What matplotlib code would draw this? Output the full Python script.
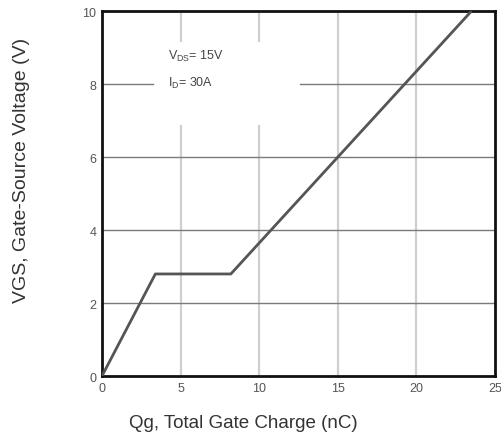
import numpy as np
import matplotlib
matplotlib.use('Agg')
import matplotlib.pyplot as plt

plt.rcParams['font.family'] = ['Liberation Sans', 'DejaVu Sans']

# gate charge curve (nC, V)
qg = [0.0, 3.4, 8.2, 23.5]
vgs = [0.0, 2.8, 2.8, 10.0]

x_ticks = [0, 5, 10, 15, 20, 25]
y_ticks = [0, 2, 4, 6, 8, 10]

fig = plt.figure(figsize=(5.02, 4.35), dpi=100)
ax = fig.add_axes([0.203, 0.133, 0.783, 0.839])
ax.set_xlim(0, 25)
ax.set_ylim(0, 10)

# vertical grid, light, with gaps at 5 and 10 for the annotation
for xv in [5, 10, 15, 20]:
    if xv in (5, 10):
        ax.plot([xv, xv], [0, 6.85], color='#cfcfcf', lw=1.6, zorder=1)
        ax.plot([xv, xv], [9.18, 10], color='#cfcfcf', lw=1.6, zorder=1)
    else:
        ax.plot([xv, xv], [0, 10], color='#cfcfcf', lw=1.6, zorder=1)
# horizontal grid, darker thin
for yv in [2, 4, 6, 8]:
    if yv == 8:
        ax.plot([0, 3.25], [yv, yv], color='#7a7a7a', lw=1.0, zorder=1)
        ax.plot([12.6, 25], [yv, yv], color='#7a7a7a', lw=1.0, zorder=1)
    else:
        ax.plot([0, 25], [yv, yv], color='#7a7a7a', lw=1.0, zorder=1)

ax.plot(qg, vgs, color='#555555', lw=2.0, zorder=3, solid_capstyle='butt')

ax.text(4.2, 8.8, r'V$_{\mathregular{DS}}$= 15V', fontsize=9, color='#444444', va='center')
ax.text(4.2, 8.05, r'I$_{\mathregular{D}}$= 30A', fontsize=9, color='#444444', va='center')

ax.set_xticks(x_ticks)
ax.set_yticks(y_ticks)
ax.tick_params(length=0, labelsize=9, colors='#555555', pad=4)
for s in ax.spines.values():
    s.set_linewidth(2.0)
    s.set_color('#111111')

ax.set_xlabel('Qg, Total Gate Charge (nC)', fontsize=13.5, color='#333333')
ax.xaxis.set_label_coords(0.361, -0.126)
ax.xaxis.label.set_va('center')
ax.set_ylabel('VGS, Gate-Source Voltage (V)', fontsize=14, color='#333333')
ax.yaxis.set_label_coords(-0.204, 0.567)
ax.yaxis.label.set_va('center')

fig.savefig('out.png', dpi=100)
